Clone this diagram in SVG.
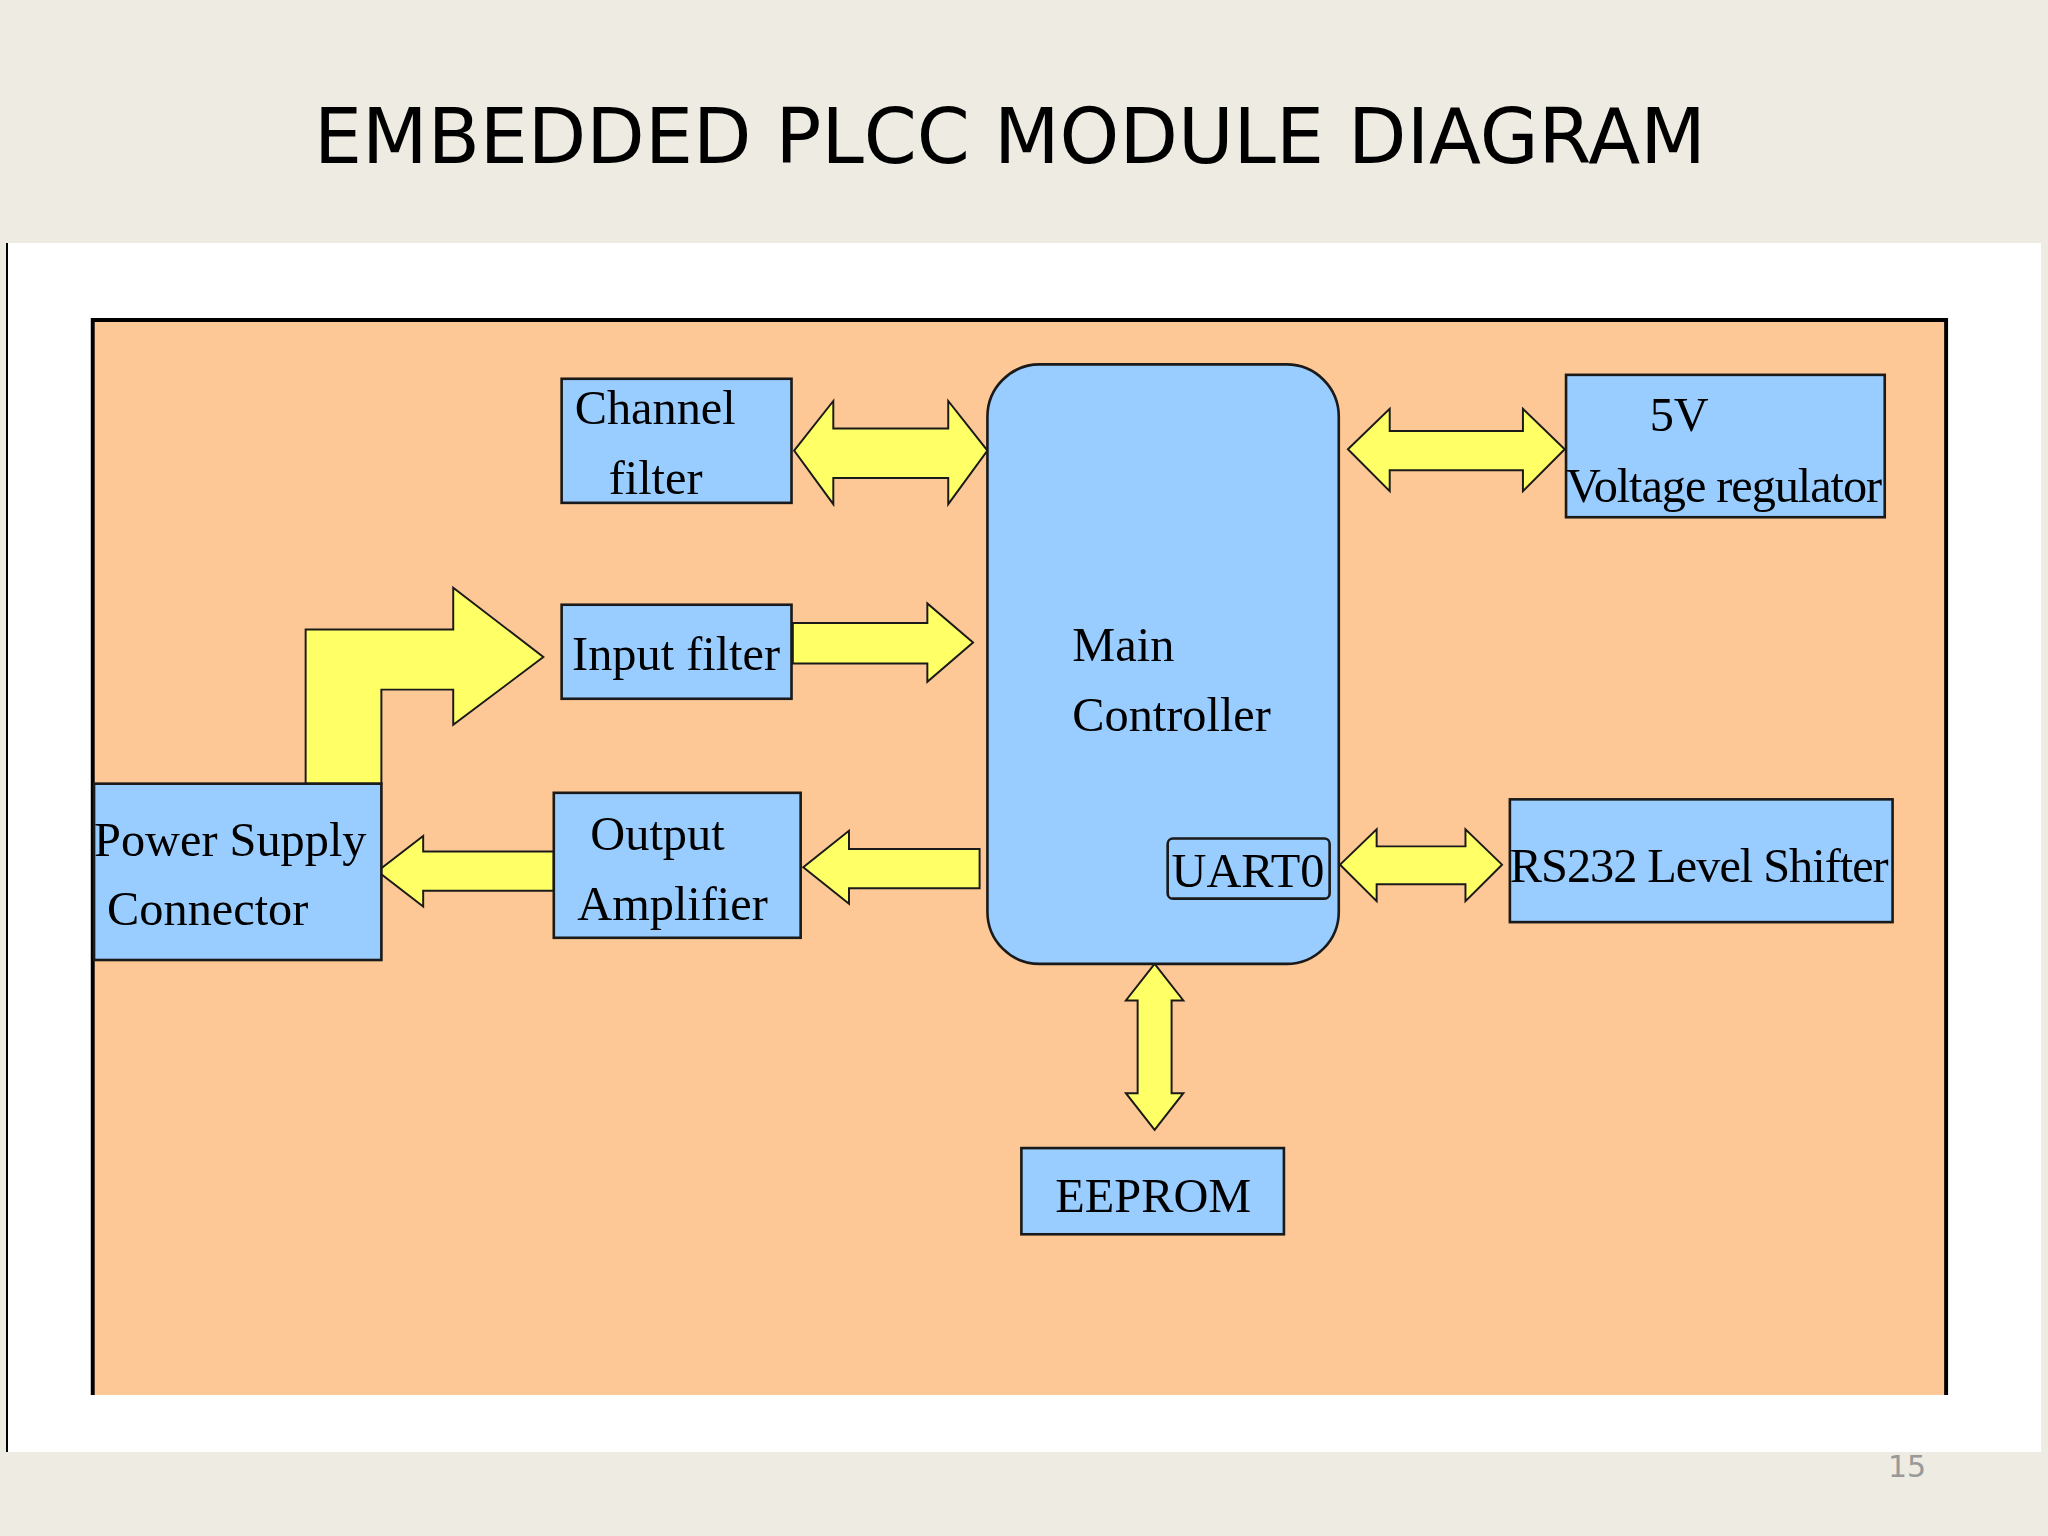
<svg xmlns="http://www.w3.org/2000/svg" width="2048" height="1536" viewBox="0 0 2048 1536">
<style>
.box{fill:#99CCFF;stroke:#1a1a1a;stroke-width:2}
.arr{fill:#FFFF66;stroke:#1a1a1a;stroke-width:1.5}
.t{font-family:"Liberation Serif",serif;font-size:37px;fill:#000}
</style>
<rect width="2048" height="1536" fill="#EEEBE3"/>
<rect x="7" y="243" width="2034" height="1209" fill="#fff"/>
<line x1="7" y1="243" x2="7" y2="1452" stroke="#000" stroke-width="2"/>
<text x="1010" y="163" text-anchor="middle" font-family="DejaVu Sans,sans-serif" font-size="76" fill="#000">EMBEDDED PLCC MODULE DIAGRAM</text>
<text x="1907" y="1477" text-anchor="middle" font-family="DejaVu Sans,sans-serif" font-size="30" fill="#999">15</text>
<g transform="scale(1.30612)">
<rect x="71" y="245" width="1419" height="823" fill="#FDC896"/>
<path d="M71,1068 V245 H1490 V1068" fill="none" stroke="#000" stroke-width="3"/>
<g id="connectors">
<polygon class="arr" points="608,345 638,307 638,328 726,328 726,307 756,345 726,386 726,366 638,366 638,386"/>
<polygon class="arr" points="607,477 710,477 710,462 745,492 710,522 710,508 607,508"/>
<polygon class="arr" points="234,600 234,482 347,482 347,450 416,503 347,555 347,528 292,528 292,600"/>
<polygon class="arr" points="750,650 650,650 650,636 615,664 650,692 650,680 750,680"/>
<polygon class="arr" points="424,652 324,652 324,640 289,667 324,694 324,682 424,682"/>
<polygon class="arr" points="1032,344 1064,313 1064,330 1166,330 1166,313 1198,344 1166,376 1166,360 1064,360 1064,376"/>
<polygon class="arr" points="1026,662 1054,635 1054,648 1122,648 1122,635 1150,662 1122,690 1122,677 1054,677 1054,690"/>
<polygon class="arr" points="884,738 906,766 897,766 897,837 906,837 884,865 862,837 871,837 871,766 862,766"/>
</g>
<g id="channel"><rect class="box" x="430" y="290" width="176" height="95"/><text class="t" x="440" y="325">Channel</text><text class="t" x="466" y="378">filter</text></g>
<g id="input"><rect class="box" x="430" y="463" width="176" height="72"/><text class="t" x="438" y="513">Input filter</text></g>
<g id="output"><rect class="box" x="424" y="607" width="189" height="111"/><text class="t" x="452" y="651">Output</text><text class="t" x="442" y="704">Amplifier</text></g>
<g id="power"><rect class="box" x="72" y="600" width="220" height="135"/><text class="t" x="72" y="655">Power Supply</text><text class="t" x="82" y="708">Connector</text></g>
<g id="main"><rect class="box" x="756" y="279" width="269" height="459" rx="40"/><text class="t" x="821" y="506">Main</text><text class="t" x="821" y="560">Controller</text>
<rect x="894" y="642" width="124" height="46" rx="4" fill="none" stroke="#1a1a1a" stroke-width="2"/><text class="t" x="897" y="679">UART0</text></g>
<g id="reg"><rect class="box" x="1199" y="287" width="244" height="109"/><text class="t" x="1263" y="330">5V</text><text class="t" x="1199" y="384" textLength="242">Voltage regulator</text></g>
<g id="rs232"><rect class="box" x="1156" y="612" width="293" height="94"/><text class="t" x="1156" y="675" textLength="290">RS232 Level Shifter</text></g>
<g id="eeprom"><rect class="box" x="782" y="879" width="201" height="66"/><text class="t" x="808" y="928">EEPROM</text></g>
</g>
</svg>
